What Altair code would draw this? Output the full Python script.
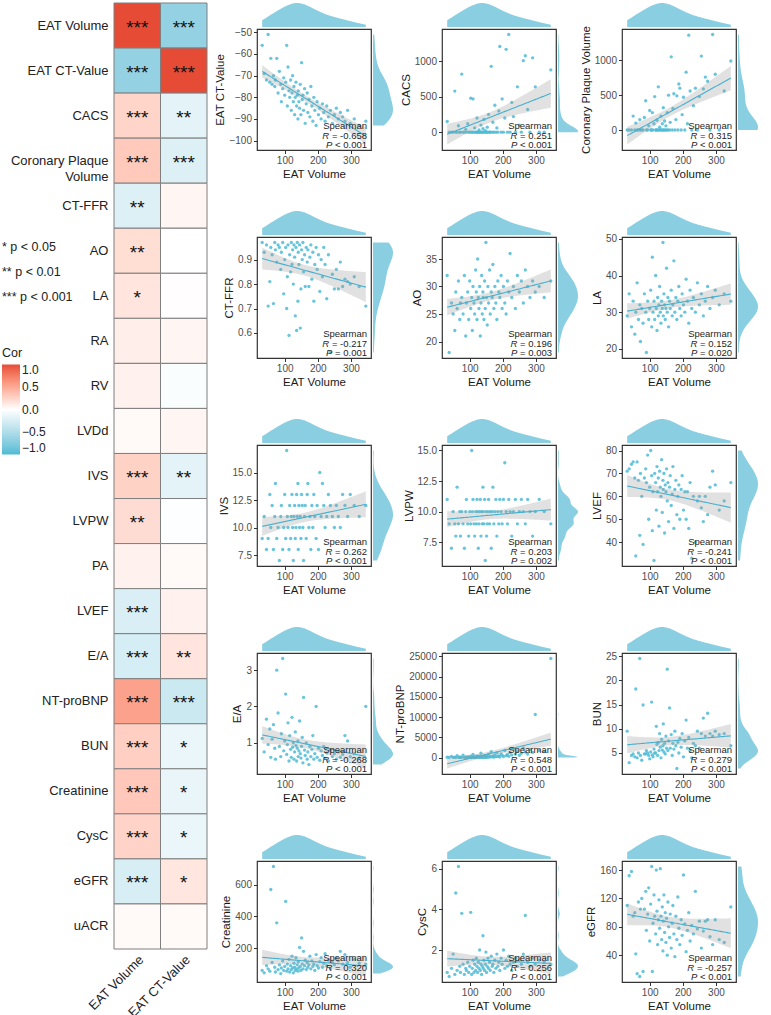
import numpy as np
import pandas as pd
import altair as alt

FONT = "Liberation Sans"
BLUE = "#4DBBD5"
RED = "#E64B35"
POINT = "#4DBBD5"
LINE = "#45B0D0"
DENS = "#8ACFE1"
BAND = "#9A9A9A"

# ---------------- correlation heatmap ----------------
ROWS = ["EAT Volume", "EAT CT-Value", "CACS", "Coronary Plaque Volume", "CT-FFR",
        "AO", "LA", "RA", "RV", "LVDd", "IVS", "LVPW", "PA", "LVEF", "E/A",
        "NT-proBNP", "BUN", "Creatinine", "CysC", "eGFR", "uACR"]
COLS = ["EAT Volume", "EAT CT-Value"]
COR_VOL = [1.0, -0.658, 0.251, 0.315, -0.217, 0.196, 0.152, 0.10, 0.08, 0.03,
           0.262, 0.203, 0.08, -0.241, -0.268, 0.548, 0.279, 0.320, 0.256, -0.257, 0.03]
COR_CT = [-0.658, 1.0, -0.18, -0.22, 0.06, 0.0, 0.01, 0.05, -0.03, 0.06,
          -0.17, -0.01, 0.03, 0.08, 0.15, -0.33, -0.13, -0.14, -0.13, 0.14, 0.03]
SIG_VOL = ["***", "***", "***", "***", "**", "**", "*", "", "", "",
           "***", "**", "", "***", "***", "***", "***", "***", "***", "***", ""]
SIG_CT = ["***", "***", "**", "***", "", "", "", "", "", "",
          "**", "", "", "", "**", "***", "*", "*", "*", "*", ""]
SIG_NOTES = ["* p < 0.05", "** p < 0.01", "*** p < 0.001"]

heat_df = pd.DataFrame({
    "row": ROWS * 2,
    "col": [COLS[0]] * len(ROWS) + [COLS[1]] * len(ROWS),
    "cor": COR_VOL + COR_CT,
    "sig": SIG_VOL + SIG_CT,
})

# ---------------- scatter data (shared EAT Volume axis) ----------------
EAT_VOLUME = [32, 38, 45, 50, 55, 58, 62, 66, 70, 72,
              76, 80, 84, 88, 90, 94, 97, 100, 103, 106,
              108, 110, 113, 115, 118, 120, 122, 124, 126, 128,
              130, 132, 134, 136, 138, 140, 141, 143, 145, 147,
              149, 151, 153, 155, 157, 160, 162, 165, 168, 170,
              173, 176, 179, 182, 185, 188, 191, 195, 198, 202,
              206, 210, 214, 218, 222, 227, 232, 238, 244, 250,
              256, 262, 268, 275, 282, 290, 298, 310, 325, 345]

EAT_CT = [-56, -69, -72, -51, -73, -62, -74, -70, -75, -72,
          -62, -78, -68, -74, -82, -76, -71, -79, -73, -56,
          -84, -66, -77, -80, -72, -86, -78, -70, -82, -75,
          -88, -80, -73, -84, -79, -90, -77, -82, -85, -74,
          -88, -64, -81, -79, -86, -76, -92, -83, -78, -87,
          -81, -89, -75, -84, -91, -80, -86, -93, -82, -88,
          -85, -90, -83, -87, -91, -84, -89, -86, -92, -88,
          -85, -90, -87, -89, -91, -86, -92, -90, -93, -91]
CACS = [150, 0, 0, 0, 580, 0, 0, 90, 0, 0,
        820, 0, 0, 40, 0, 120, 0, 0, 480, 0,
        0, 470, 0, 60, 0, 0, 200, 0, 0, 30,
        0, 0, 100, 0, 0, 50, 0, 180, 0, 20,
        0, 0, 70, 0, 250, 0, 0, 930, 0, 140,
        0, 380, 0, 60, 0, 300, 1210, 0, 470, 0,
        200, 1170, 0, 1380, 0, 420, 220, 0, 640, 100,
        0, 1010, 1080, 320, 0, 1050, 640, 0, 0, 880]
PLAQUE = [0, 0, 0, 200, 0, 100, 0, 0, 150, 0,
          0, 0, 180, 420, 0, 0, 60, 280, 0, 0,
          250, 0, 90, 480, 0, 0, 140, 0, 620, 0,
          40, 0, 200, 0, 90, 0, 320, 0, 130, 0,
          60, 0, 250, 0, 500, 0, 110, 1050, 0, 310,
          520, 0, 150, 490, 0, 660, 600, 0, 220, 470,
          0, 830, 90, 1360, 560, 0, 350, 600, 0, 480,
          1060, 590, 760, 700, 0, 1370, 800, 0, 560, 990]
CT_FFR = [0.97, 0.93, 0.96, 0.71, 0.81, 0.95, 0.92, 0.72, 0.97, 0.94,
          0.89, 0.96, 0.95, 0.86, 0.93, 0.97, 0.76, 0.90, 0.95, 0.70,
          0.83, 0.96, 0.59, 0.92, 0.85, 0.97, 0.88, 0.94, 0.80, 0.96,
          0.91, 0.67, 0.95, 0.61, 0.97, 0.73, 0.93, 0.88, 0.96, 0.62,
          0.78, 0.94, 0.90, 0.97, 0.85, 0.92, 0.79, 0.95, 0.89, 0.94,
          0.79, 0.91, 0.96, 0.82, 0.93, 0.73, 0.88, 0.95, 0.86, 0.92,
          0.77, 0.90, 0.83, 0.95, 0.88, 0.74, 0.92, 0.52, 0.84, 0.78,
          0.86, 0.78, 0.89, 0.79, 0.82, 0.81, 0.80, 0.83, 0.79, 0.71]
AO = [32, 18, 27, 25, 22, 29, 26, 31, 24, 27,
      28, 25, 32, 21, 27, 29, 24, 31, 26, 28,
      22, 30, 27, 25, 33, 29, 24, 35, 28, 26,
      30, 21, 27, 32, 25, 29, 28, 24, 31, 26,
      38, 28, 23, 30, 27, 33, 25, 29, 28, 34,
      26, 30, 27, 24, 31, 29, 28, 32, 26, 30,
      27, 25, 31, 29, 36, 28, 30, 26, 32, 29,
      31, 27, 33, 30, 28, 31, 29, 30, 28, 31]
LA = [29, 35, 26, 33, 24, 30, 38, 28, 32, 22,
      31, 27, 35, 30, 19, 33, 28, 31, 36, 26,
      45, 30, 33, 28, 40, 31, 25, 34, 29, 32,
      37, 30, 27, 33, 31, 49, 29, 35, 32, 28,
      31, 42, 30, 34, 26, 33, 31, 36, 29, 32,
      44, 30, 34, 28, 33, 37, 31, 29, 35, 32,
      30, 39, 33, 27, 36, 31, 34, 30, 38, 32,
      35, 29, 33, 37, 31, 34, 36, 32, 35, 33]
IVS = [9, 11, 8, 9, 13, 10, 12, 8, 11, 14,
       9, 10, 7, 11, 12, 8, 10, 13, 9, 17,
       11, 10, 8, 12, 9, 11, 13, 10, 7, 11,
       12, 9, 10, 13, 11, 14, 8, 12, 10, 11,
       9, 13, 12, 10, 7, 11, 12, 9, 13, 14,
       10, 11, 8, 12, 10, 13, 11, 9, 12, 8,
       15, 11, 14, 12, 10, 11, 13, 12, 11, 10,
       12, 11, 10, 13, 12, 11, 13, 12, 11, 12]
LVPW = [11, 9, 7, 10, 9, 8, 12, 9, 10, 8,
        10, 9, 7, 10, 11, 9, 8, 10, 9, 15,
        10, 11, 9, 8, 10, 9, 11, 10, 7, 9,
        10, 11, 8, 10, 9, 12, 10, 9, 11, 6,
        10, 8, 9, 10, 11, 9, 10, 7, 10, 12,
        9, 10, 11, 8, 10, 9, 11, 10, 9, 11,
        14, 10, 9, 11, 10, 8, 10, 11, 9, 10,
        11, 10, 9, 11, 10, 8, 10, 11, 10, 9]
LVEF = [71, 72, 74, 75, 68, 34, 75, 67, 43, 70,
        60, 39, 68, 72, 66, 78, 50, 64, 80, 69,
        45, 62, 32, 70, 66, 54, 73, 62, 68, 47,
        71, 64, 60, 76, 53, 67, 63, 70, 44, 65,
        62, 72, 58, 66, 49, 64, 69, 56, 61, 73,
        46, 63, 67, 52, 60, 65, 50, 63, 69, 54,
        62, 50, 62, 46, 66, 33, 60, 40, 58, 60,
        55, 49, 60, 52, 64, 71, 65, 54, 58, 66]
E_A = [1.12, 0.75, 1.65, 0.95, 1.38, 0.60, 1.10, 1.50, 0.85, 0.55,
       3.00, 1.82, 0.90, 0.62, 1.25, 3.32, 0.78, 1.05, 2.34, 0.68,
       0.95, 1.55, 0.50, 1.20, 0.82, 0.60, 1.70, 0.88, 1.00, 0.55,
       0.75, 1.30, 0.92, 0.50, 0.85, 1.05, 0.62, 0.78, 1.60, 0.70,
       0.58, 0.90, 1.15, 0.45, 2.25, 0.80, 0.65, 1.00, 0.55, 0.75,
       0.40, 0.90, 0.62, 0.82, 1.20, 0.55, 0.70, 2.00, 0.60, 0.85,
       0.52, 0.78, 0.65, 0.90, 0.58, 0.72, 0.50, 0.80, 0.62, 0.70,
       0.55, 0.75, 0.60, 0.68, 1.20, 1.05, 0.62, 0.70, 0.58, 2.00]
NT_PROBNP = [120, 60, 300, 80, 150, 40, 500, 90, 200, 30,
             110, 650, 70, 180, 40, 260, 90, 140, 380, 60,
             220, 800, 100, 50, 300, 130, 70, 450, 180, 90,
             260, 60, 1100, 150, 80, 340, 200, 100, 600, 120,
             250, 70, 420, 180, 900, 140, 300, 1500, 210, 380,
             130, 700, 260, 1200, 320, 450, 180, 950, 600, 300,
             1800, 500, 800, 350, 1300, 700, 2200, 900, 1600, 600,
             1100, 2400, 1400, 900, 2000, 1300, 10700, 1800, 1500, 24500]
BUN = [9.5, 3.0, 4.5, 4.8, 4.2, 18.2, 4.0, 5.0, 24.5, 4.5,
       3.5, 14.9, 4.8, 4.8, 5.5, 5.0, 4.5, 3.8, 5.2, 15.5,
       4.6, 4.2, 5.8, 5.0, 5.0, 10.5, 6.8, 4.5, 7.2, 5.5,
       9.0, 6.2, 4.0, 7.8, 5.6, 6.5, 11.0, 5.2, 7.0, 4.8,
       8.5, 6.0, 22.3, 5.5, 7.5, 14.3, 6.0, 8.8, 4.5, 7.0,
       5.8, 9.5, 6.5, 1.8, 7.2, 5.0, 8.0, 6.2, 9.0, 4.2,
       7.5, 11.8, 6.0, 8.2, 5.5, 4.0, 7.0, 6.5, 9.5, 6.0,
       9.0, 12.2, 8.5, 13.2, 9.0, 8.5, 9.5, 8.8, 9.0, 6.5]
CREATININE = [60, 45, 90, 70, 55, 570, 110, 715, 80, 50,
              360, 65, 95, 40, 75, 120, 60, 85, 495, 55,
              100, 70, 130, 50, 90, 65, 150, 75, 45, 105,
              80, 60, 140, 70, 95, 55, 115, 75, 205, 85,
              60, 265, 100, 70, 180, 90, 125, 65, 110, 80,
              95, 150, 70, 120, 85, 100, 60, 160, 90, 75,
              115, 140, 80, 105, 165, 90, 125, 70, 110, 95,
              140, 120, 180, 100, 160, 110, 80, 130, 105, 100]
CYSC = [0.9, 0.7, 1.1, 1.8, 0.8, 4.8, 1.0, 6.1, 1.2, 0.9,
        3.8, 1.3, 0.8, 1.1, 1.0, 1.4, 0.9, 1.2, 3.85, 0.8,
        1.1, 1.5, 0.9, 1.3, 1.0, 1.6, 1.2, 0.9, 1.4, 1.1,
        2.0, 1.0, 1.3, 0.8, 1.2, 2.7, 1.1, 1.5, 1.0, 1.3,
        1.9, 0.9, 1.2, 1.6, 1.1, 1.4, 1.0, 1.7, 1.2, 1.3,
        0.9, 1.5, 1.1, 1.8, 1.2, 1.4, 1.0, 1.6, 1.3, 2.0,
        1.1, 1.5, 1.2, 1.7, 1.3, 1.0, 1.4, 1.6, 1.2, 1.5,
        1.3, 1.8, 3.7, 1.4, 1.2, 1.6, 1.3, 1.5, 1.4, 1.3]
EGFR = [110, 152, 158, 95, 100, 42, 14, 115, 10, 105,
        120, 17, 105, 130, 75, 98, 135, 60, 112, 165,
        17, 85, 125, 95, 70, 160, 102, 55, 90, 118,
        78, 162, 95, 62, 108, 46, 88, 125, 72, 100,
        58, 92, 40, 115, 80, 65, 98, 50, 85, 110,
        70, 38, 95, 62, 122, 78, 55, 90, 68, 153,
        84, 45, 75, 100, 60, 82, 70, 130, 77, 88,
        50, 74, 88, 90, 66, 55, 90, 62, 58, 108]

# label, values, tick values, tick format, Spearman R, P text
PANELS = [
    ("EAT CT-Value", EAT_CT, [-100, -90, -80, -70, -60, -50], "d", "-0.658", "< 0.001"),
    ("CACS", CACS, [0, 500, 1000, 1500], "d", "0.251", "< 0.001"),
    ("Coronary Plaque Volume", PLAQUE, [0, 500, 1000], "d", "0.315", "< 0.001"),
    ("CT-FFR", CT_FFR, [0.6, 0.7, 0.8, 0.9], ".1f", "-0.217", "= 0.001"),
    ("AO", AO, [20, 25, 30, 35], "d", "0.196", "= 0.003"),
    ("LA", LA, [20, 30, 40, 50], "d", "0.152", "= 0.020"),
    ("IVS", IVS, [7.5, 10, 12.5, 15], ".1f", "0.262", "< 0.001"),
    ("LVPW", LVPW, [7.5, 10, 12.5, 15], ".1f", "0.203", "= 0.002"),
    ("LVEF", LVEF, [40, 50, 60, 70, 80], "d", "-0.241", "< 0.001"),
    ("E/A", E_A, [1, 2, 3], "d", "-0.268", "< 0.001"),
    ("NT-proBNP", NT_PROBNP, [0, 5000, 10000, 15000, 20000, 25000], "d", "0.548", "< 0.001"),
    ("BUN", BUN, [5, 10, 15, 20, 25], "d", "0.279", "< 0.001"),
    ("Creatinine", CREATININE, [200, 400, 600], "d", "0.320", "< 0.001"),
    ("CysC", CYSC, [2, 4, 6], "d", "0.256", "< 0.001"),
    ("eGFR", EGFR, [40, 80, 120, 160], "d", "-0.257", "< 0.001"),
]

W, H = 114, 121          # scatter plot area
MARG = 20                # marginal density thickness
TOP = 26                 # room taken above each scatter by its top density
ONE = pd.DataFrame({"k": [0]})

# approximate Arial advance widths (em) used to place the italic R / P
ADV = {" ": .278, "=": .584, "<": .584, "-": .333, ".": .278}


def text_width(s, size):
    return sum(ADV.get(c, .556) for c in s) * size


def fit_band(x, y, n=60):
    x = np.asarray(x, float)
    y = np.asarray(y, float)
    b, a = np.polyfit(x, y, 1)
    res = y - (a + b * x)
    s = np.sqrt((res ** 2).sum() / (len(x) - 2))
    sxx = ((x - x.mean()) ** 2).sum()
    g = np.linspace(x.min(), x.max(), n)
    f = a + b * g
    se = s * np.sqrt(1 / len(x) + (g - x.mean()) ** 2 / sxx)
    return pd.DataFrame({"x": g, "fit": f, "lo": f - 1.99 * se, "hi": f + 1.99 * se})


def note(text, y_from_bottom, right_gap, italic=False):
    return alt.Chart(ONE).mark_text(
        text=text, align="right", baseline="alphabetic", fontSize=9.5, font=FONT,
        fontStyle="italic" if italic else "normal", color="#262626",
    ).encode(x=alt.value(W - right_gap), y=alt.value(H - y_from_bottom))


def panel(label, ys, ticks, fmt, r_txt, p_txt):
    df = pd.DataFrame({"x": EAT_VOLUME, "y": ys})
    band = fit_band(EAT_VOLUME, ys)
    x0, x1 = min(EAT_VOLUME), max(EAT_VOLUME)
    xr = x1 - x0
    xs = alt.Scale(domain=[x0 - 0.05 * xr, x1 + 0.05 * xr], nice=False, zero=False)
    lo = min(min(ys), band["lo"].min())
    hi = max(max(ys), band["hi"].max())
    yr = hi - lo
    ysc = alt.Scale(domain=[lo - 0.05 * yr, hi + 0.05 * yr], nice=False, zero=False)

    xax = alt.Axis(values=[100, 200, 300], format="d", title="EAT Volume", orient="bottom")
    yax = alt.Axis(values=ticks, format=fmt, title=label, orient="left")

    pts = alt.Chart(df).mark_circle(size=11, color=POINT, opacity=0.85).encode(
        x=alt.X("x:Q", scale=xs, axis=xax), y=alt.Y("y:Q", scale=ysc, axis=yax))
    ci = alt.Chart(band).mark_area(color=BAND, opacity=0.3).encode(
        x=alt.X("x:Q", scale=xs, axis=None),
        y=alt.Y("lo:Q", scale=ysc, axis=None), y2="hi:Q")
    line = alt.Chart(band).mark_line(color=LINE, strokeWidth=1.1).encode(
        x=alt.X("x:Q", scale=xs, axis=None), y=alt.Y("fit:Q", scale=ysc, axis=None))

    top = alt.Chart(df).transform_density(
        "x", as_=["xv", "d"], extent=[x0, x1], steps=150
    ).mark_area(color=DENS).encode(
        x=alt.X("xv:Q", scale=xs, axis=None),
        y=alt.Y("d:Q", scale=alt.Scale(range=[-2, -TOP], zero=True, nice=False), axis=None))
    right = alt.Chart(df).transform_density(
        "y", as_=["yv", "d"], extent=[min(ys), max(ys)], steps=150
    ).mark_area(color=DENS, orient="horizontal").encode(
        y=alt.Y("yv:Q", scale=ysc, axis=None),
        x=alt.X("d:Q", scale=alt.Scale(range=[W + 2, W + 2 + MARG], zero=True, nice=False), axis=None))

    r_rest = f" = {r_txt}"
    p_rest = f" {p_txt}"
    notes = [
        note("Spearman", 21, 4),
        note(r_rest, 11.5, 4),
        note("R", 11.5, 4 + text_width(r_rest, 9.5), italic=True),
        note(p_rest, 2.5, 4),
        note("P", 2.5, 4 + text_width(p_rest, 9.5), italic=True),
    ]
    return alt.layer(pts, ci, line, top, right, *notes).resolve_scale(
        x="independent", y="independent"
    ).properties(width=W, height=H,
                 view=alt.ViewBackground(stroke="#333333", strokeWidth=1.2))


panels = [panel(*p) for p in PANELS]
grid = alt.concat(*panels, columns=3, spacing={"row": 29, "column": 0}, align="each").resolve_scale(
    x="independent", y="independent")

# ---------------- heatmap chart ----------------
# the rows start TOP px above the plot origin so that the first row lines up
# with the top densities of the scatter grid
HEAT_H = 920
y_band = alt.Scale(paddingInner=0, paddingOuter=0, range=[-TOP, HEAT_H])
x_band = alt.Scale(paddingInner=0, paddingOuter=0)
rect = alt.Chart(heat_df).mark_rect(stroke="#7F7F7F", strokeWidth=1).encode(
    x=alt.X("col:N", sort=COLS, scale=x_band, axis=alt.Axis(
        title=None, labelAngle=315, labelAlign="right", labelBaseline="top",
        ticks=False, domain=False, labelFontSize=13, labelPadding=4, labelColor="#222222")),
    y=alt.Y("row:N", sort=ROWS, scale=y_band, axis=alt.Axis(
        title=None, ticks=False, domain=False, labelFontSize=13, labelPadding=6,
        labelColor="#222222", labelLimit=200, labelLineHeight=16,
        labelExpr="datum.value == 'Coronary Plaque Volume' ? ['Coronary Plaque', 'Volume'] : datum.value")),
    color=alt.Color("cor:Q", scale=alt.Scale(domain=[-1, 0, 1], range=[BLUE, "#FFFFFF", RED], interpolate="lab"),
                    legend=alt.Legend(title="Cor", orient="none", legendX=-112, legendY=318,
                                      direction="vertical", gradientLength=90, gradientThickness=18,
                                      values=[1, 0.5, 0, -0.5, -1], format=".1f",
                                      titleFontSize=12.5, labelFontSize=12, titleFontWeight="normal",
                                      titleFont=FONT, labelFont=FONT, labelColor="#222222",
                                      titleColor="#222222", gradientStrokeWidth=0)),
)
stars = alt.Chart(heat_df).mark_text(fontSize=19, dy=8, baseline="alphabetic",
                                     color="#111111", font=FONT).encode(
    x=alt.X("col:N", sort=COLS), y=alt.Y("row:N", sort=ROWS), text="sig:N")
sig_notes = [
    alt.Chart(ONE).mark_text(text=t, align="left", baseline="middle", fontSize=12.5, font=FONT,
                             color="#222222").encode(x=alt.value(-112), y=alt.value(218 + 25 * i))
    for i, t in enumerate(SIG_NOTES)
]
heat = alt.layer(rect, stars, *sig_notes).properties(width=93, height=HEAT_H)

chart = alt.concat(heat, grid, columns=2, align="none", spacing=6).properties(
    padding={"left": 2, "top": 2, "right": 0, "bottom": 0}
).configure_view(stroke=None).configure_axis(
    labelFont=FONT, titleFont=FONT, labelFontSize=10, titleFontSize=11.5,
    titleFontWeight="normal", labelColor="#4D4D4D", titleColor="#1A1A1A",
    tickColor="#333333", tickSize=3.5, domain=False, grid=False,
    labelPadding=2, titlePadding=3,
)

chart.save("out.html", embed_options={"renderer": "svg", "actions": False})
